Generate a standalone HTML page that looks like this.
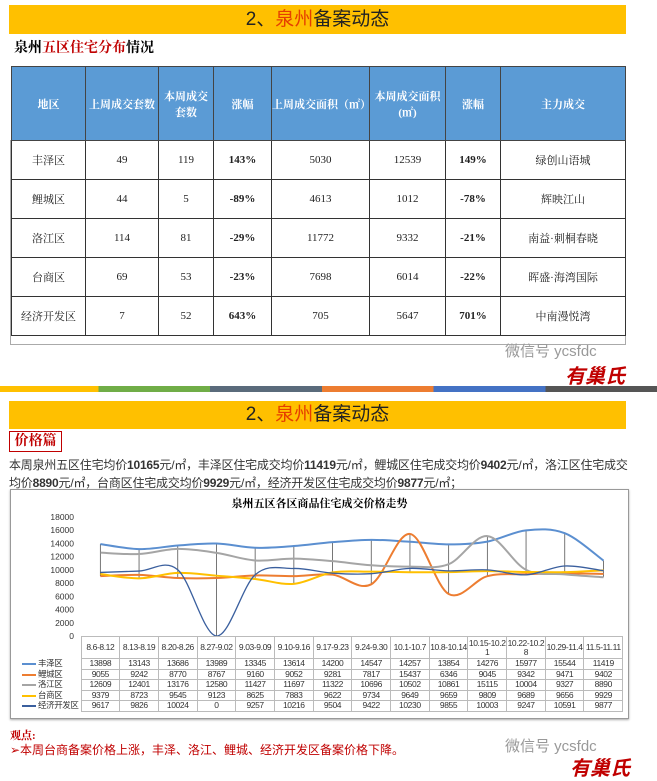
<!DOCTYPE html>
<html><head><meta charset="utf-8"><style>
*{margin:0;padding:0;box-sizing:border-box}
body{width:657px;height:776px;background:#fff;position:relative;overflow:hidden;font-family:"Liberation Sans","Noto Sans CJK SC",sans-serif}
.bar{position:absolute;left:9px;width:617px;background:#ffc000;text-align:center;font-size:19px;color:#222}
.bar span{color:#e53f00}
table.t{position:absolute;left:11px;top:66px;width:615px;border-collapse:collapse;font-size:11px;font-family:"Liberation Serif","Noto Serif CJK SC",serif}
table.t td{border:1px solid #333;text-align:center;height:39px;color:#222}
table.t tr.h td{background:#5b9bd5;color:#fff;height:74px;font-weight:bold;border-color:#444}
.r{color:#d00000;font-weight:bold}.g{color:#2a9b3a;font-weight:bold}
table.d{position:absolute;left:20px;top:636px;width:603px;table-layout:fixed;border-collapse:collapse;font-size:8.5px;color:#333;font-family:"Liberation Sans","Noto Sans CJK SC",sans-serif}
table.d td{border:1px solid #bbb;text-align:center;height:10.5px;line-height:9px;white-space:nowrap;overflow:hidden;letter-spacing:-0.4px;padding:0}
table.d tr.hd td{height:22px;white-space:normal}
table.d td.l{text-align:left;border:none;padding-left:2px}
table.d td.e{border:none}
</style></head><body>
<div class="bar" style="top:5px;height:29px;line-height:29px">2、<span>泉州</span>备案动态</div>
<div style="position:absolute;left:14px;top:37px;font-size:14px;font-weight:bold;font-family:'Liberation Serif','Noto Serif CJK SC',serif">泉州<span style="color:#c00000">五区住宅分布</span>情况</div>
<div style="position:absolute;left:10px;top:140px;width:616px;height:205px;border:1px solid #aaa;border-top:none"></div>
<table class="t">
<tr class="h"><td style="width:74px">地区</td><td style="width:73px">上周成交套数</td><td style="width:55px">本周成交<br>套数</td><td style="width:58px">涨幅</td><td style="width:98px">上周成交面积（㎡）</td><td style="width:76px">本周成交面积<br>(㎡)</td><td style="width:55px">涨幅</td><td>主力成交</td></tr>
<tr><td>丰泽区</td><td>49</td><td>119</td><td class="r">143%</td><td>5030</td><td>12539</td><td class="r">149%</td><td>绿创山语城</td></tr>
<tr><td>鲤城区</td><td>44</td><td>5</td><td class="g">-89%</td><td>4613</td><td>1012</td><td class="g">-78%</td><td>辉映江山</td></tr>
<tr><td>洛江区</td><td>114</td><td>81</td><td class="g">-29%</td><td>11772</td><td>9332</td><td class="g">-21%</td><td>南益·刺桐春晓</td></tr>
<tr><td>台商区</td><td>69</td><td>53</td><td class="g">-23%</td><td>7698</td><td>6014</td><td class="g">-22%</td><td>晖盛·海湾国际</td></tr>
<tr><td>经济开发区</td><td>7</td><td>52</td><td class="r">643%</td><td>705</td><td>5647</td><td class="r">701%</td><td>中南漫悦湾</td></tr>
</table>
<div style="position:absolute;left:505px;top:340px;font-size:15px;color:#999">微信号 ycsfdc</div>
<div style="position:absolute;left:565px;top:360px;font-size:20px;font-weight:bold;color:#c00000;font-style:italic">有巢氏</div>
<div style="position:absolute;left:0;top:386px;width:657px;height:6px;background:linear-gradient(90deg,#ffc000 0 15%,#70ad47 15% 32%,#5a6b7b 32% 49%,#ed7d31 49% 66%,#4472c4 66% 83%,#555 83%)"></div>
<div class="bar" style="top:401px;height:28px;line-height:28px">2、<span>泉州</span>备案动态</div>
<div style="position:absolute;left:9px;top:431px;width:53px;height:21px;border:1px solid #c00000;color:#c00000;font-weight:bold;font-size:14px;line-height:19px;text-align:center;font-family:'Liberation Serif','Noto Serif CJK SC',serif">价格篇</div>
<div style="position:absolute;left:9px;top:456px;width:628px;font-size:12px;letter-spacing:-0.2px;line-height:18px;color:#333">本周泉州五区住宅均价<b>10165</b>元/㎡，丰泽区住宅成交均价<b>11419</b>元/㎡，鲤城区住宅成交均价<b>9402</b>元/㎡，洛江区住宅成交均价<b>8890</b>元/㎡，台商区住宅成交均价<b>9929</b>元/㎡，经济开发区住宅成交均价<b>9877</b>元/㎡；</div>
<div style="position:absolute;left:10px;top:489px;width:619px;height:230px;border:1px solid #999;box-shadow:0 1px 2px #aaa"></div>
<div style="position:absolute;left:10px;top:495px;width:619px;text-align:center;font-size:11px;font-weight:bold;font-family:'Liberation Serif','Noto Serif CJK SC',serif">泉州五区各区商品住宅成交价格走势</div>
<svg id="c" style="position:absolute;left:0;top:0" width="657" height="776"></svg>
<table class="d" id="dt"></table>
<div style="position:absolute;left:10px;top:727px;color:#c00000;font-weight:bold;font-size:11px;font-family:'Liberation Serif','Noto Serif CJK SC',serif">观点:</div>
<div style="position:absolute;left:10px;top:741px;color:#c00000;font-size:12px">➢本周台商备案价格上涨，丰泽、洛江、鲤城、经济开发区备案价格下降。</div>
<div style="position:absolute;left:505px;top:735px;font-size:15px;color:#999">微信号 ycsfdc</div>
<div style="position:absolute;left:570px;top:752px;font-size:20px;font-weight:bold;color:#c00000;font-style:italic">有巢氏</div>
<script>
var cats=["8.6-8.12","8.13-8.19","8.20-8.26","8.27-9.02","9.03-9.09","9.10-9.16","9.17-9.23","9.24-9.30","10.1-10.7","10.8-10.14","10.15-10.2<br>1","10.22-10.2<br>8","10.29-11.4","11.5-11.11"];
var S=[["丰泽区","#5b8fd0",2,[13898,13143,13686,13989,13345,13614,14200,14547,14257,13854,14276,15977,15544,11419]],
["鲤城区","#ed7d31",2,[9055,9242,8770,8767,9160,9052,9281,7817,15437,6346,9045,9342,9471,9402]],
["洛江区","#a5a5a5",2,[12609,12401,13176,12580,11427,11697,11322,10696,10502,10861,15115,10004,9327,8890]],
["台商区","#ffc000",2,[9379,8723,9545,9123,8625,7883,9622,9734,9649,9659,9809,9689,9656,9929]],
["经济开发区","#3a5f9e",1.3,[9617,9826,10024,0,9257,10216,9504,9422,10230,9855,10003,9247,10591,9877]]];
var x0=81,cw=38.7,yb=636,ys=119/18000;
function X(i){return x0+cw*(i+.5)}function Y(v){return yb-v*ys}
var s='';
for(var k=0;k<=9;k++){var v=k*2000;s+='<text x="74" y="'+(Y(v)+3)+'" font-size="8.5" text-anchor="end" fill="#333" font-family="Liberation Sans">'+v+'</text>';}
for(var i=0;i<14;i++){var mx=-1,mn=1e9;S.forEach(function(q){mx=Math.max(mx,q[3][i]);mn=Math.min(mn,q[3][i])});s+='<line x1="'+X(i)+'" x2="'+X(i)+'" y1="'+Y(mx)+'" y2="'+Y(mn)+'" stroke="#555" stroke-width="0.8"/>';}
S.forEach(function(q){var d=q[3],p='M'+X(0)+','+Y(d[0]);for(var i=0;i<13;i++){var a=d[Math.max(i-1,0)],b=d[i],c=d[i+1],e=d[Math.min(i+2,13)];var xa=X(Math.max(i-1,0)),xb=X(i),xc=X(i+1),xe=X(Math.min(i+2,13));
p+=' C'+(xb+(xc-xa)/6)+','+Y(b+(c-a)/6)+' '+(xc-(xe-xb)/6)+','+Y(c-(e-b)/6)+' '+xc+','+Y(c);}
s+='<path d="'+p+'" fill="none" stroke="'+q[1]+'" stroke-width="'+q[2]+'"/>';});
document.getElementById('c').innerHTML=s;
var h='<colgroup><col style="width:61px">';for(var i=0;i<14;i++)h+='<col style="width:38.7px">';h+='</colgroup><tr class="hd"><td class="e"></td>';cats.forEach(function(c){h+='<td>'+c+'</td>'});h+='</tr>';
S.forEach(function(q){h+='<tr><td class="l"><span style="display:inline-block;width:14px;height:2px;background:'+q[1]+';vertical-align:middle;margin-right:2px"></span>'+q[0]+'</td>';q[3].forEach(function(v){h+='<td>'+v+'</td>'});h+='</tr>';});
document.getElementById('dt').innerHTML=h;
</script>
</body></html>
